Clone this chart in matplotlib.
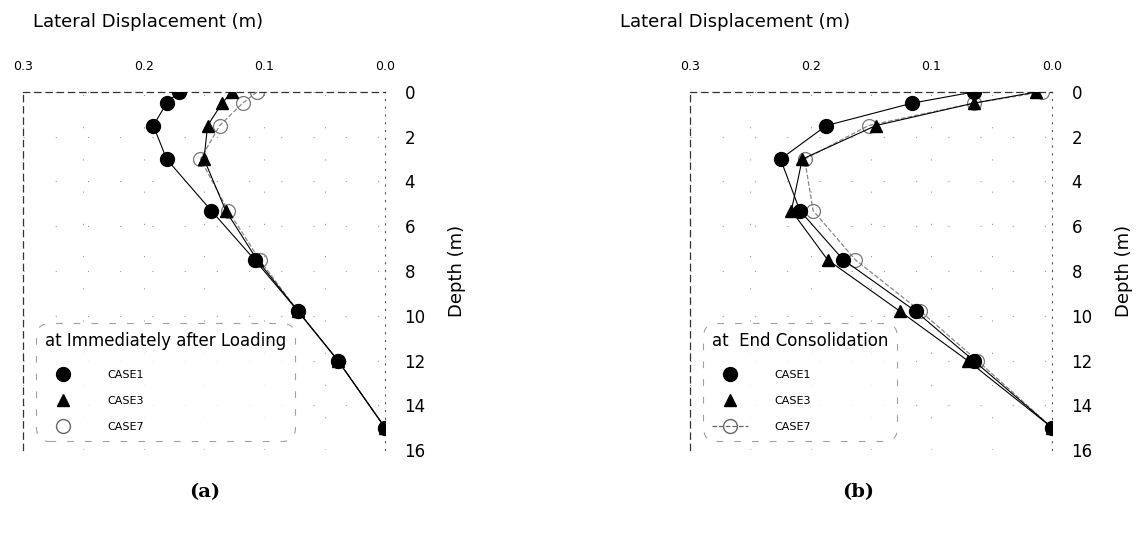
import matplotlib.pyplot as plt

depth = [0, 0.5, 1.5, 3, 5.3, 7.5, 9.8, 12, 15]

# (a) immediately after loading
a_case1 = [0.171, 0.181, 0.192, 0.181, 0.144, 0.108, 0.072, 0.039, 0.0]
a_case3 = [0.127, 0.135, 0.147, 0.150, 0.132, 0.106, 0.072, 0.039, 0.0]
a_case7 = [0.106, 0.118, 0.137, 0.153, 0.130, 0.104, 0.072, 0.039, 0.0]

# (b) end of consolidation
b_case1 = [0.065, 0.116, 0.187, 0.225, 0.209, 0.173, 0.113, 0.065, 0.0]
b_case3 = [0.013, 0.065, 0.146, 0.207, 0.216, 0.186, 0.126, 0.070, 0.0]
b_case7 = [0.008, 0.065, 0.152, 0.205, 0.198, 0.163, 0.109, 0.062, 0.0]

xticks = [0.3, 0.2, 0.1, 0.0]
xticklabels = ['0.3', '0.2', '0.1', '0.0']
yticks = [0, 2, 4, 6, 8, 10, 12, 14, 16]

fig = plt.figure(figsize=(11.4, 5.33), dpi=100)
narrow = ['Liberation Sans Narrow', 'DejaVu Sans']


def panel(ax, c1, c3, c7, title, case7_line):
    ax.plot(c7, depth, color='#888888', ls='--', lw=0.9, marker='o', ms=10,
            mfc='none', mec='#777777', mew=0.9, zorder=2)
    ax.plot(c3, depth, color='black', ls='-', lw=0.8, marker='^', ms=9,
            mfc='black', mec='black', zorder=3)
    ax.plot(c1, depth, color='black', ls='-', lw=0.8, marker='o', ms=10,
            mfc='black', mec='black', zorder=4)

    ax.set_xlim(0.3, 0.0)
    ax.set_ylim(16, 0)
    ax.xaxis.tick_top()
    ax.set_xticks(xticks)
    ax.set_xticklabels(xticklabels, family=narrow, fontsize=9)
    ax.tick_params(axis='x', length=0, pad=14)
    ax.yaxis.tick_right()
    ax.yaxis.set_label_position('right')
    ax.set_yticks(yticks)
    ax.set_yticklabels([str(t) for t in yticks], fontsize=12)
    ax.tick_params(axis='y', length=0, pad=14)

    for s in ['top', 'left']:
        ax.spines[s].set_linestyle((0, (5, 4)))
        ax.spines[s].set_linewidth(0.9)
        ax.spines[s].set_color('#333333')
    ax.spines['right'].set_linestyle((0, (1, 6)))
    ax.spines['right'].set_color('#555555')
    ax.spines['bottom'].set_visible(False)

    ax.set_xticks([0.25, 0.15, 0.05], minor=True)
    ax.tick_params(axis='x', which='minor', length=0)
    ax.grid(True, which='both', ls=(0, (1, 28)), color='#999999', lw=0.8)

    ax.set_ylabel('Depth (m)', fontsize=13, labelpad=16)

    handles = [
        plt.Line2D([], [], ls='none', marker='o', ms=10, color='black'),
        plt.Line2D([], [], ls='none', marker='^', ms=9, color='black'),
        plt.Line2D([], [], ls='--' if case7_line else 'none', lw=0.9,
                   color='#666666', marker='o', ms=10, mfc='none',
                   mec='#666666'),
    ]
    leg = ax.legend(handles, ['CASE1', 'CASE3', 'CASE7'], title=title,
                    loc='lower left', bbox_to_anchor=(0.03, 0.02),
                    fontsize=8, title_fontsize=12, fancybox=True,
                    handlelength=3.2, handletextpad=2.4, labelspacing=1.45,
                    borderpad=0.5, frameon=True)
    leg._legend_box.align = 'left'
    leg._legend_box.sep = 14
    fr = leg.get_frame()
    fr.set_linestyle((0, (6, 10)))
    fr.set_edgecolor('#888888')
    fr.set_linewidth(0.8)
    fr.set_boxstyle('round,pad=0.3,rounding_size=1.2')


ax1 = fig.add_axes([0.0202, 0.1557, 0.3175, 0.6717])
panel(ax1, a_case1, a_case3, a_case7, 'at Immediately after Loading', False)
ax2 = fig.add_axes([0.6053, 0.1557, 0.3175, 0.6717])
panel(ax2, b_case1, b_case3, b_case7, 'at  End Consolidation', True)

fig.text(148 / 1140, 1 - 22 / 533, 'Lateral Displacement (m)', fontsize=13,
         ha='center', va='center')
fig.text(735 / 1140, 1 - 22 / 533, 'Lateral Displacement (m)', fontsize=13,
         ha='center', va='center')
fig.text(205 / 1140, 1 - 492 / 533, '(a)', fontsize=14, family='DejaVu Serif',
         weight='bold', ha='center', va='center')
fig.text(858 / 1140, 1 - 492 / 533, '(b)', fontsize=14, family='DejaVu Serif',
         weight='bold', ha='center', va='center')

fig.savefig('out.png', dpi=100)
